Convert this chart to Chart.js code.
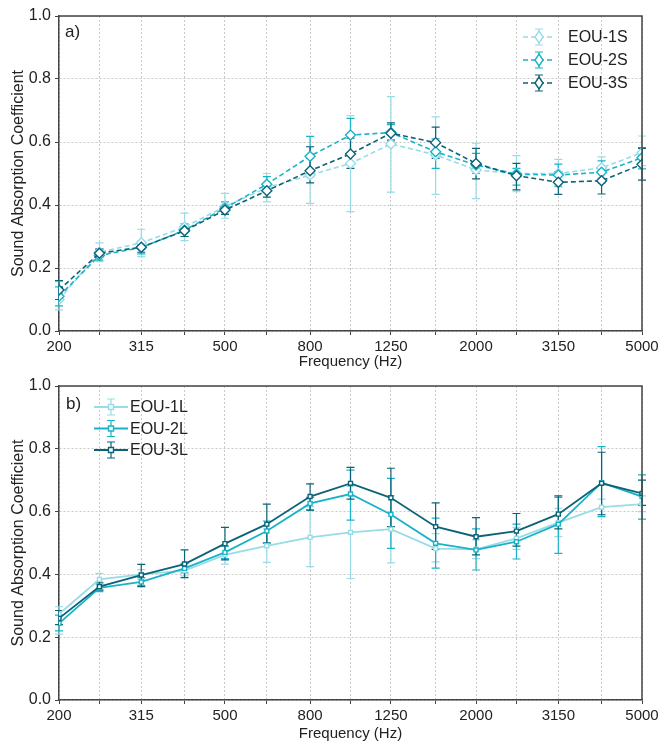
<!DOCTYPE html>
<html>
<head>
<meta charset="utf-8">
<script src="https://cdn.jsdelivr.net/npm/chart.js@4/dist/chart.umd.min.js"></script>
<style>
  body { margin: 0; background: #fff; }
  .panel { width: 662px; height: 372px; position: relative; }
</style>
</head>
<body>
<div class="panel"><canvas id="chartA" width="662" height="372"></canvas></div>
<div class="panel"><canvas id="chartB" width="662" height="372"></canvas></div>
<script>
// 1/3 octave band centre frequencies
const freqs = [200, 250, 315, 400, 500, 630, 800, 1000, 1250, 1600, 2000, 2500, 3150, 4000, 5000];
const labelledFreqs = [200, 315, 500, 800, 1250, 2000, 3150, 5000];
const yTicks = [0, 0.2, 0.4, 0.6, 0.8, 1.0];

// panel a) - short samples
const eou1S   = [0.100, 0.250, 0.280, 0.330, 0.395, 0.455, 0.495, 0.532, 0.594, 0.559, 0.511, 0.500, 0.500, 0.518, 0.566];
const eou1SLo = [0.067, 0.220, 0.236, 0.287, 0.358, 0.410, 0.405, 0.379, 0.441, 0.434, 0.420, 0.442, 0.463, 0.485, 0.525];
const eou1SHi = [0.157, 0.280, 0.323, 0.374, 0.437, 0.500, 0.585, 0.684, 0.744, 0.680, 0.596, 0.557, 0.545, 0.553, 0.619];
const eou2S   = [0.110, 0.240, 0.265, 0.320, 0.390, 0.466, 0.555, 0.622, 0.630, 0.569, 0.527, 0.498, 0.495, 0.504, 0.550];
const eou2SLo = [0.080, 0.225, 0.245, 0.300, 0.370, 0.440, 0.490, 0.565, 0.600, 0.516, 0.500, 0.463, 0.458, 0.470, 0.515];
const eou2SHi = [0.140, 0.260, 0.285, 0.340, 0.410, 0.490, 0.618, 0.675, 0.655, 0.610, 0.564, 0.516, 0.530, 0.540, 0.582];
const eou3S   = [0.130, 0.247, 0.266, 0.318, 0.384, 0.445, 0.509, 0.562, 0.628, 0.598, 0.532, 0.493, 0.472, 0.477, 0.529];
const eou3SLo = [0.100, 0.235, 0.250, 0.300, 0.370, 0.425, 0.470, 0.516, 0.606, 0.548, 0.483, 0.448, 0.434, 0.435, 0.479];
const eou3SHi = [0.160, 0.260, 0.280, 0.335, 0.400, 0.465, 0.585, 0.612, 0.661, 0.647, 0.580, 0.532, 0.506, 0.516, 0.580];

// panel b) - long samples
const eou1L   = [0.274, 0.384, 0.400, 0.412, 0.462, 0.491, 0.518, 0.534, 0.544, 0.482, 0.480, 0.515, 0.565, 0.614, 0.624];
const eou1LLo = [0.210, 0.350, 0.385, 0.395, 0.433, 0.438, 0.425, 0.387, 0.437, 0.440, 0.450, 0.480, 0.520, 0.590, 0.600];
const eou1LHi = [0.297, 0.403, 0.415, 0.430, 0.490, 0.545, 0.616, 0.680, 0.650, 0.530, 0.510, 0.550, 0.610, 0.640, 0.650];
const eou2L   = [0.244, 0.357, 0.376, 0.419, 0.470, 0.538, 0.626, 0.656, 0.591, 0.499, 0.478, 0.504, 0.560, 0.692, 0.648];
const eou2LLo = [0.220, 0.345, 0.365, 0.405, 0.450, 0.500, 0.605, 0.573, 0.483, 0.420, 0.414, 0.449, 0.467, 0.584, 0.576];
const eou2LHi = [0.270, 0.370, 0.390, 0.435, 0.490, 0.570, 0.645, 0.732, 0.706, 0.579, 0.545, 0.560, 0.645, 0.807, 0.717];
const eou3L   = [0.260, 0.361, 0.398, 0.433, 0.498, 0.560, 0.648, 0.690, 0.644, 0.552, 0.520, 0.538, 0.592, 0.690, 0.658];
const eou3LLo = [0.240, 0.350, 0.361, 0.390, 0.446, 0.500, 0.605, 0.640, 0.552, 0.480, 0.462, 0.490, 0.545, 0.590, 0.620];
const eou3LHi = [0.285, 0.375, 0.432, 0.478, 0.550, 0.624, 0.688, 0.741, 0.738, 0.628, 0.581, 0.594, 0.650, 0.789, 0.700];

const FONT = '"Liberation Sans", Arial, sans-serif';
const C1 = '#97dce7', C2 = '#19b3c8', C3 = '#0c6377';
const AXIS = '#444';

const pts = vals => vals.map((v, i) => ({ x: freqs[i], y: v }));

// vertical error bars with caps, placed through the chart scales
const errorBars = {
  id: 'errorBars',
  beforeDatasetsDraw(chart) {
    const { ctx, scales: { x, y } } = chart;
    ctx.save();
    chart.data.datasets.forEach(ds => {
      ctx.strokeStyle = ds.borderColor;
      ctx.lineWidth = 1.2;
      ctx.setLineDash([]);
      freqs.forEach((f, i) => {
        const px = x.getPixelForValue(f);
        const lo = y.getPixelForValue(ds.errLo[i]);
        const hi = y.getPixelForValue(ds.errHi[i]);
        ctx.beginPath();
        ctx.moveTo(px, lo); ctx.lineTo(px, hi);
        ctx.moveTo(px - 4, lo); ctx.lineTo(px + 4, lo);
        ctx.moveTo(px - 4, hi); ctx.lineTo(px + 4, hi);
        ctx.stroke();
      });
    });
    ctx.restore();
  }
};

// top / right frame, panel letter and legend
const decorations = {
  id: 'decorations',
  afterDraw(chart, args, opts) {
    const { ctx, chartArea: a } = chart;
    ctx.save();
    ctx.strokeStyle = AXIS;
    ctx.lineWidth = 1.5;
    ctx.beginPath();
    ctx.moveTo(a.left, a.top); ctx.lineTo(a.right, a.top); ctx.lineTo(a.right, a.bottom);
    ctx.stroke();

    ctx.fillStyle = '#222';
    ctx.font = '17px ' + FONT;
    ctx.textBaseline = 'middle';
    ctx.textAlign = 'left';
    ctx.fillText(opts.letter, opts.letterX, opts.letterY);

    const L = opts.legend;
    chart.data.datasets.forEach((ds, i) => {
      const yy = L.y + i * L.dy;
      const xm = L.x + L.len / 2;
      ctx.strokeStyle = ds.borderColor;
      ctx.lineWidth = ds.borderWidth;
      ctx.setLineDash(ds.borderDash || []);
      ctx.beginPath();
      ctx.moveTo(L.x, yy); ctx.lineTo(L.x + L.len, yy);
      ctx.stroke();
      ctx.setLineDash([]);
      ctx.lineWidth = 1.2;
      ctx.beginPath();
      ctx.moveTo(xm, yy - 8); ctx.lineTo(xm, yy + 8);
      ctx.moveTo(xm - 4, yy - 8); ctx.lineTo(xm + 4, yy - 8);
      ctx.moveTo(xm - 4, yy + 8); ctx.lineTo(xm + 4, yy + 8);
      ctx.stroke();
      ctx.fillStyle = '#fff';
      ctx.lineWidth = ds.pointBorderWidth;
      ctx.beginPath();
      if (ds.pointStyle === 'rectRot') {
        ctx.moveTo(xm, yy - 6); ctx.lineTo(xm + 4, yy); ctx.lineTo(xm, yy + 6); ctx.lineTo(xm - 4, yy); ctx.closePath();
      } else {
        ctx.rect(xm - 2.5, yy - 2.5, 5, 5);
      }
      ctx.fill(); ctx.stroke();
      ctx.fillStyle = '#222';
      ctx.font = '16px ' + FONT;
      ctx.fillText(ds.label, L.textX, yy + 1);
    });
    ctx.restore();
  }
};

function series(label, vals, lo, hi, color, dashed, order) {
  return {
    label: label,
    data: pts(vals),
    errLo: lo, errHi: hi,
    order: order,
    borderColor: color,
    backgroundColor: '#fff',
    borderWidth: dashed ? 1.6 : 1.8,
    borderDash: dashed ? [5, 3] : [],
    pointStyle: dashed ? 'rectRot' : 'rect',
    pointRadius: dashed ? 5 : 2.8,
    pointBorderWidth: 1.4,
    pointBackgroundColor: '#fff',
    pointBorderColor: color,
    tension: 0
  };
}

function makeChart(id, datasets, top, xAxisH, deco) {
  return new Chart(document.getElementById(id), {
    type: 'line',
    data: { datasets: datasets },
    options: {
      responsive: false,
      animation: false,
      layout: { padding: { left: 9, right: 20, top: top, bottom: 0 } },
      plugins: { legend: { display: false }, tooltip: { enabled: false }, decorations: deco },
      scales: {
        x: {
          type: 'logarithmic',
          min: 200, max: 5000,
          afterBuildTicks: s => { s.ticks = freqs.map(v => ({ value: v })); },
          afterFit: s => { s.height = xAxisH; },
          ticks: {
            autoSkip: false, maxRotation: 0, padding: 3,
            color: '#222', font: { family: FONT, size: 15 },
            callback: v => labelledFreqs.includes(v) ? String(v) : ''
          },
          grid: { color: '#c9c9c9', tickColor: AXIS, tickLength: 4, tickBorderDash: [] },
          border: { color: AXIS, width: 1.5, dash: [2, 2] },
          title: {
            display: true, text: 'Frequency (Hz)', color: '#222',
            font: { family: FONT, size: 15 }, padding: { top: 0, bottom: 1 }
          }
        },
        y: {
          min: 0, max: 1,
          afterBuildTicks: s => { s.ticks = yTicks.map(v => ({ value: v })); },
          afterFit: s => { s.width = 50; },
          ticks: { color: '#222', font: { family: FONT, size: 16 }, padding: 4, callback: v => v.toFixed(1) },
          grid: { color: '#c9c9c9', tickColor: AXIS, tickLength: 4, tickBorderDash: [] },
          border: { color: AXIS, width: 1.5, dash: [2, 2] },
          title: {
            display: true, text: 'Sound Absorption Coefficient', color: '#222',
            font: { family: FONT, size: 16 }, padding: 0
          }
        }
      }
    },
    plugins: [errorBars, decorations]
  });
}

// legend order 1 -> 3, darker series drawn on top
makeChart('chartA', [
  series('EOU-1S', eou1S, eou1SLo, eou1SHi, C1, true, 2),
  series('EOU-2S', eou2S, eou2SLo, eou2SHi, C2, true, 1),
  series('EOU-3S', eou3S, eou3SLo, eou3SHi, C3, true, 0)
], 16, 41, {
  letter: 'a)', letterX: 65, letterY: 32,
  legend: { x: 523, len: 32, y: 37, dy: 23, textX: 568 }
});

makeChart('chartB', [
  series('EOU-1L', eou1L, eou1LLo, eou1LHi, C1, false, 2),
  series('EOU-2L', eou2L, eou2LLo, eou2LHi, C2, false, 1),
  series('EOU-3L', eou3L, eou3LLo, eou3LHi, C3, false, 0)
], 14, 44, {
  letter: 'b)', letterX: 66, letterY: 32,
  legend: { x: 94, len: 34, y: 35, dy: 21.5, textX: 130 }
});
</script>
</body>
</html>
